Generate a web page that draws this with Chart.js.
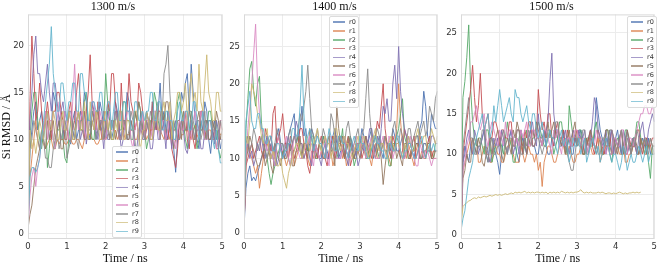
<!DOCTYPE html>
<html>
<head>
<meta charset="utf-8">
<script src="https://cdn.jsdelivr.net/npm/chart.js@4.4.0/dist/chart.umd.min.js"></script>
<style>
  body { margin: 0; background: #fff; width: 664px; height: 266px; position: relative; overflow: hidden; }
  .panel { position: absolute; top: 0; height: 266px; }
  .leyenda { position: absolute; background: rgba(255,255,255,0.85); border: 1px solid #dcdcdc; border-radius: 2px;
             font-family: "DejaVu Sans", sans-serif; font-size: 6.5px; color: #333; padding: 1px 2px 1px 3px; }
  .leyenda div { height: 8.8px; line-height: 8.8px; white-space: nowrap; }
  .leyenda span.linea { display: inline-block; width: 12px; height: 1.5px; vertical-align: middle; margin-right: 4px; }
</style>
</head>
<body>
<div class="panel" id="caja1" style="left:0px;width:228px"><canvas id="grafica_1300"></canvas></div>
<div class="panel" id="caja2" style="left:228px;width:215px"><canvas id="grafica_1400"></canvas></div>
<div class="panel" id="caja3" style="left:445px;width:215px"><canvas id="grafica_1500"></canvas></div>
<script>
/*-----Datos-----*/

const tiempo = [0, 0.05, 0.1, 0.15, 0.2, 0.25, 0.3, 0.35, 0.4, 0.45,
  0.5, 0.55, 0.6, 0.65, 0.7, 0.75, 0.8, 0.85, 0.9, 0.95,
  1.0, 1.05, 1.1, 1.15, 1.2, 1.25, 1.3, 1.35, 1.4, 1.45,
  1.5, 1.55, 1.6, 1.65, 1.7, 1.75, 1.8, 1.85, 1.9, 1.95,
  2.0, 2.05, 2.1, 2.15, 2.2, 2.25, 2.3, 2.35, 2.4, 2.45,
  2.5, 2.55, 2.6, 2.65, 2.7, 2.75, 2.8, 2.85, 2.9, 2.95,
  3.0, 3.05, 3.1, 3.15, 3.2, 3.25, 3.3, 3.35, 3.4, 3.45,
  3.5, 3.55, 3.6, 3.65, 3.7, 3.75, 3.8, 3.85, 3.9, 3.95,
  4.0, 4.05, 4.1, 4.15, 4.2, 4.25, 4.3, 4.35, 4.4, 4.45,
  4.5, 4.55, 4.6, 4.65, 4.7, 4.75, 4.8, 4.85, 4.9, 4.95, 5.0];

const nombres = ['r0', 'r1', 'r2', 'r3', 'r4', 'r5', 'r6', 'r7', 'r8', 'r9'];
const ticks_x = [0, 1, 2, 3, 4, 5];
const ticks_y_1300 = [0, 5, 10, 15, 20];
const ticks_y_1400 = [0, 5, 10, 15, 20, 25];
const ticks_y_1500 = [0, 5, 10, 15, 20, 25];

// 1300 m/s
const p1300_r0 = [0.5, 9, 11, 13, 14, 11, 12, 13, 10, 12,
  13, 10, 11, 15, 14, 11, 12, 10, 10, 13,
  12, 10, 9.5, 12, 13, 10, 11, 13, 12, 15,
  14, 11, 10, 13, 12, 10, 11, 14, 13, 11,
  10, 13, 12, 10, 11, 14, 13, 11, 10, 12,
  12, 15, 14, 11, 11, 13, 12, 10, 13, 11,
  10, 13, 12, 10, 14, 12, 11, 13, 16, 12,
  13, 11, 10, 12, 11, 9, 6.5, 10, 12, 15,
  14, 16, 17, 13, 18, 15, 12, 10, 9, 12,
  11, 14, 13, 10, 8.5, 11, 12, 10, 11, 9, 10];
const p1300_r1 = [0.5, 6, 8, 10, 12, 10, 9, 10, 9.5, 9,
  9.5, 10, 10, 9, 9, 10, 9.5, 10, 10, 9.5,
  9.5, 10, 10, 9.5, 9.5, 10, 10, 9.5, 9, 10,
  10, 10.5, 10.5, 10, 10, 9.5, 9.5, 10, 10, 10.5,
  10, 10.5, 10.5, 10, 10, 11, 10, 10.5, 10, 11,
  10, 10.5, 10.5, 11, 11, 10, 10, 11, 11, 10.5,
  11, 10, 10.5, 11, 11, 12, 12, 11, 11, 10.5,
  10, 11, 11, 10, 10.5, 11, 11, 10, 10, 10.5,
  10.5, 11, 11, 10.5, 10, 11, 11.5, 10.5, 10, 11,
  11, 10, 10.5, 11, 11, 10, 10, 10.5, 11, 10.5, 10.5];
const p1300_r2 = [0.5, 10, 13, 15, 15, 12, 10, 9, 11, 13,
  7, 9, 12, 10, 9, 11, 11, 13, 10, 8,
  7.5, 10, 12, 11, 10, 12, 13, 11, 11, 14,
  15, 12, 12, 10, 10, 13, 13, 11, 11, 12,
  17, 14, 12, 10, 10, 12, 13, 11, 11, 14,
  14, 12, 12, 10, 10, 13, 12, 14, 13, 11,
  11, 9, 10, 12, 12, 15, 14, 12, 11, 13,
  12, 10, 13, 11, 10, 12, 11, 14, 15, 13,
  12, 10, 9, 11, 13, 12, 11, 9, 10, 13,
  12, 10, 11, 13, 13, 11, 10, 12, 9, 8, 9];
const p1300_r3 = [0.5, 14, 21, 17, 12, 13, 16, 13, 11, 12,
  14, 12, 10, 13, 13, 15, 15, 13, 12, 10,
  10, 13, 14, 11, 12, 15, 17, 14, 11, 10,
  13, 15, 19, 14, 12, 11, 14, 12, 10, 13,
  11, 14, 13, 17, 17, 14, 12, 10, 16, 12,
  11, 13, 17, 14, 13, 11, 12, 16, 15, 13,
  10, 11, 12, 10, 14, 12, 11, 13, 13, 11,
  12, 10, 10, 12, 9, 8, 7, 9, 12, 11,
  11, 13, 10, 9, 12, 10, 9, 11, 11, 13,
  13, 11, 10, 12, 12, 10, 11, 9, 9, 12, 11];
const p1300_r4 = [0.5, 12, 15, 19, 21, 17, 17, 15, 14, 16,
  18, 15, 13, 16, 16, 14, 12, 13, 14, 12,
  11, 13, 13, 11, 10, 12, 12, 10, 11, 13,
  9.5, 11, 12, 14, 13, 11, 10, 12, 11, 9,
  12, 10, 10, 12, 11, 13, 13, 11, 9, 10,
  12, 10, 10, 12, 11, 9, 9, 11, 12, 10,
  10, 12, 11, 9, 9, 11, 12, 10, 10, 13,
  11, 9, 13, 11, 9, 11, 12, 10, 10, 12,
  11, 9, 8.5, 10, 12, 11, 10, 12, 11, 9,
  9, 11, 12, 10, 10, 11, 9.5, 12, 11, 10, 10];
const p1300_r5 = [0.5, 2, 3, 5, 7, 8, 9, 11, 10, 9,
  12, 10, 11, 12, 10, 11, 12, 9, 9, 11,
  11, 13, 12, 10, 10, 12, 13, 11, 11, 13,
  12, 10, 10, 12, 11, 13, 13, 11, 12, 10,
  11, 12, 10, 12, 12, 10, 11, 13, 13, 11,
  12, 10, 10, 12, 11, 13, 12, 14, 13, 11,
  11, 13, 12, 10, 10, 12, 13, 11, 11, 13,
  12, 14, 14, 12, 11, 9, 10, 12, 12, 10,
  13, 11, 11, 13, 12, 10, 10, 12, 13, 11,
  11, 12, 12, 10, 10, 12, 11, 13, 12, 10, 11];
const p1300_r6 = [0.5, 4, 6, 7, 5, 7, 8, 10, 11, 13,
  10, 12, 12, 10, 9, 12, 14, 12, 11, 13,
  12, 10, 10, 14, 18, 13, 11, 12, 13, 11,
  10, 12, 12, 14, 14, 11, 11, 13, 12, 10,
  10, 12, 13, 11, 11, 13, 12, 10, 10, 12,
  11, 13, 13, 10, 9, 11, 12, 10, 11, 13,
  10, 12, 12, 10, 11, 13, 13, 11, 10, 12,
  12, 10, 11, 13, 12, 10, 9, 11, 12, 11,
  11, 13, 12, 10, 10, 12, 13, 11, 11, 13,
  12, 10, 10, 12, 12, 11, 11, 9, 10, 12, 12];
const p1300_r7 = [0.5, 9, 10, 12, 11, 10, 9, 11, 10, 8,
  8, 7, 7, 9, 10, 11, 9, 10, 11, 12,
  8, 9, 10, 12, 11, 10, 9, 12, 12, 10,
  10, 11, 11, 13, 12, 10, 11, 12, 12, 10,
  12, 11, 10, 12, 11, 13, 12, 10, 10, 12,
  12, 10, 11, 13, 12, 10, 8, 9, 12, 11,
  10, 12, 11, 13, 12, 11, 13, 14, 10, 12,
  17, 18, 20, 15, 12, 11, 11, 10, 10, 12,
  12, 11, 11, 13, 13, 11, 10, 12, 12, 10,
  11, 13, 10, 12, 12, 11, 11, 10, 10, 12, 11];
const p1300_r8 = [0.5, 11, 9, 10, 8.5, 10, 12, 11, 10, 12,
  13, 11, 11, 13, 12, 10, 10, 12, 13, 11,
  11, 13, 12, 10, 10, 12, 13, 11, 11, 14,
  12, 10, 14, 12, 11, 13, 12, 10, 10, 12,
  13, 11, 12, 10, 10, 12, 11, 13, 13, 10,
  10, 12, 12, 11, 11, 13, 13, 10, 9, 11,
  11, 13, 12, 10, 10, 12, 13, 11, 11, 13,
  14, 12, 12, 14, 10, 12, 13, 15, 15, 13,
  14, 16, 12, 15, 17, 14, 15, 13, 18, 14,
  13, 16, 19, 15, 14, 12, 12, 15, 15, 13, 13];
const p1300_r9 = [0.5, 6, 7, 7, 6.5, 7, 8, 10, 12, 14,
  16, 18, 22, 17, 15, 13, 13, 16, 16, 14,
  12, 14, 14, 16, 16, 13, 13, 17, 17, 15,
  15, 12, 12, 14, 14, 13, 13, 15, 15, 12,
  12, 14, 14, 11, 13, 15, 15, 12, 12, 14,
  14, 13, 13, 11, 11, 14, 14, 12, 12, 13,
  12, 13, 13, 15, 15, 12, 12, 14, 14, 11,
  11, 13, 13, 12, 12, 10, 10, 13, 14, 12,
  12, 13, 13, 11, 11, 14, 14, 12, 10, 11,
  13, 11, 11, 12, 12, 10, 9, 11, 9, 7.5, 7.5];

// 1400 m/s
const p1400_r0 = [0.5, 6, 8, 9, 7, 7.5, 7, 8, 9, 10,
  11, 12, 13, 11, 12, 10, 9, 13, 14, 12,
  12, 10, 11, 13, 14, 15, 16, 12, 13, 14,
  17, 13, 14, 11, 12, 14, 13, 12, 11, 10,
  10, 13, 12, 11, 10, 12, 13, 14, 12, 10,
  11, 12, 13, 11, 10, 13, 12, 10, 11, 12,
  12, 14, 13, 11, 12, 13, 14, 10, 11, 12,
  13, 11, 10, 13, 12, 12, 11, 14, 13, 11,
  11, 12, 13, 10, 11, 13, 12, 11, 10, 12,
  12, 14, 15, 19, 17, 13, 12, 16, 15, 14, 14];
const p1400_r1 = [0.5, 9, 12, 11, 10, 9, 8, 9, 6, 8,
  10, 12, 12, 11, 10, 11, 10, 12, 13, 11,
  11, 10, 9, 10, 12, 11, 9, 10, 11, 12,
  12, 10, 11, 10, 9, 11, 10, 12, 11, 10,
  11, 10, 10, 12, 12, 11, 9, 10, 11, 12,
  12, 10, 11, 9, 10, 12, 11, 10, 10, 11,
  11, 12, 12, 10, 11, 10, 9, 11, 12, 10,
  10, 11, 12, 13, 11, 10, 9, 11, 12, 14,
  20, 15, 12, 11, 10, 12, 11, 10, 9, 11,
  12, 10, 11, 10, 10, 12, 12, 11, 10, 10, 10];
const p1400_r2 = [0.5, 14, 18, 22, 23, 19, 17, 20, 21, 15,
  12, 11, 10, 8, 6.5, 8, 9, 10, 11, 12,
  10, 12, 12, 10, 9, 11, 11, 12, 13, 11,
  10, 12, 12, 11, 11, 13, 13, 10, 10, 12,
  11, 13, 12, 10, 10, 11, 13, 12, 10, 11,
  12, 14, 10, 11, 12, 13, 11, 9, 10, 12,
  11, 12, 12, 10, 10, 12, 11, 13, 13, 11,
  10, 12, 12, 11, 11, 9, 9, 12, 12, 13,
  14, 16, 18, 13, 12, 10, 10, 12, 11, 13,
  13, 10, 10, 12, 12, 11, 11, 10, 10, 12, 12];
const p1400_r3 = [0.5, 9, 10, 11, 12, 10, 11, 12, 13, 11,
  10, 14, 13, 12, 11, 16, 17, 12, 13, 14,
  16, 13, 11, 10, 13, 12, 10, 11, 12, 14,
  14, 12, 11, 9, 8, 10, 12, 11, 10, 12,
  13, 11, 10, 9, 11, 12, 13, 10, 11, 13,
  12, 11, 10, 12, 13, 9, 10, 11, 12, 12,
  12, 10, 11, 13, 12, 11, 10, 12, 13, 15,
  14, 17, 20, 14, 12, 11, 10, 13, 12, 12,
  12, 10, 11, 14, 13, 11, 10, 12, 13, 10,
  11, 13, 12, 11, 10, 12, 13, 10, 11, 11, 11];
const p1400_r4 = [0.5, 11, 12, 10, 11, 9, 10, 12, 11, 13,
  11, 10, 13, 12, 10, 11, 12, 9, 10, 12,
  10, 11, 12, 13, 11, 12, 13, 15, 14, 12,
  12, 10, 11, 12, 10, 9, 12, 11, 11, 10,
  9, 11, 12, 10, 10, 12, 11, 13, 13, 10,
  10, 12, 11, 10, 9, 12, 12, 10, 11, 9,
  10, 12, 11, 13, 12, 14, 14, 12, 11, 13,
  11, 14, 17, 16, 18, 15, 15, 20, 22.5, 18,
  25, 19, 16, 14, 13, 12, 12, 11, 11, 13,
  13, 10, 10, 12, 12, 11, 11, 13, 13, 12, 12];
const p1400_r5 = [0.5, 10, 11, 13, 12, 11, 10, 9, 9, 10,
  11, 9, 10, 11, 9, 8, 12, 11, 10, 9,
  11, 10, 10, 12, 12, 9, 9, 11, 11, 13,
  10, 12, 12, 10, 14, 13, 11, 10, 11, 12,
  12, 10, 10, 12, 13, 11, 11, 9, 17, 14,
  12, 13, 10, 11, 13, 12, 11, 10, 12, 11,
  10, 11, 12, 13, 11, 10, 13, 12, 10, 11,
  12, 10, 6.5, 9, 11, 12, 10, 11, 12, 10,
  11, 10, 9, 12, 12, 10, 10, 11, 11, 12,
  12, 10, 10, 11, 11, 12, 12, 10, 10, 11, 11];
const p1400_r6 = [0.5, 10, 14, 17, 20, 24, 28, 20, 16, 14,
  13, 12, 11, 12, 13, 10, 9, 12, 13, 11,
  11, 12, 13, 10, 9, 11, 13, 12, 11, 10,
  10, 11, 12, 12, 13, 10, 9, 12, 11, 10,
  11, 12, 13, 10, 9, 13, 12, 11, 10, 10,
  10, 12, 13, 11, 10, 10, 11, 12, 13, 11,
  11, 13, 12, 10, 11, 12, 13, 11, 10, 10,
  10, 12, 13, 11, 10, 13, 12, 10, 11, 12,
  12, 11, 10, 10, 11, 12, 13, 11, 10, 9,
  9, 12, 11, 10, 11, 11, 10, 9, 10, 10, 10];
const p1400_r7 = [0.5, 12, 13, 11, 12, 14, 13, 11, 12, 13,
  12, 11, 10, 12, 13, 11, 12, 14, 13, 12,
  12, 11, 11, 13, 14, 12, 13, 12, 14, 16,
  15, 17, 19, 22.5, 18, 14, 13, 12, 14, 12,
  12, 14, 13, 12, 12, 16, 15, 13, 11, 12,
  13, 12, 12, 14, 15, 13, 11, 12, 13, 14,
  12, 13, 14, 18, 22, 16, 13, 12, 13, 14,
  13, 11, 12, 13, 12, 11, 12, 14, 15, 13,
  12, 14, 13, 11, 12, 14, 14, 12, 13, 14,
  15, 13, 14, 15, 13, 14, 17, 16, 15, 18, 19];
const p1400_r8 = [0.5, 13, 12, 15, 20, 19, 18, 16, 15, 13,
  12, 13, 14, 11, 10, 11, 10, 9, 9, 10,
  8, 7, 6, 8, 9, 10, 11, 12, 12, 11,
  10, 11, 13, 12, 11, 12, 12, 13, 14, 12,
  11, 12, 13, 12, 12, 10, 11, 14, 14, 12,
  11, 12, 13, 12, 12, 11, 10, 11, 12, 13,
  11, 12, 13, 12, 10, 11, 12, 13, 14, 12,
  11, 12, 12, 11, 10, 12, 13, 12, 11, 12,
  12, 11, 10, 12, 11, 13, 12, 11, 11, 13,
  14, 12, 12, 13, 13, 11, 12, 14, 13, 12, 13];
const p1400_r9 = [0.5, 15, 17, 19, 15, 14, 14, 16, 16, 14,
  14, 12, 12, 13, 13, 11, 11, 12, 12, 11,
  10, 11, 11, 12, 12, 14, 14, 13, 13, 17,
  22.5, 16, 12, 13, 14, 13, 11, 12, 13, 12,
  12, 11, 10, 12, 14, 13, 12, 11, 11, 13,
  13, 12, 12, 11, 10, 11, 12, 13, 12, 11,
  13, 12, 12, 11, 10, 10, 11, 12, 13, 12,
  12, 11, 11, 10, 10, 12, 12, 11, 11, 13,
  13, 11, 10, 11, 11, 12, 12, 11, 10, 10,
  11, 12, 13, 11, 10, 11, 12, 11, 12, 11, 11];

// 1500 m/s
const p1500_r0 = [0.5, 9, 11, 10, 9, 11, 12, 11, 10, 11,
  11, 12, 13, 10, 9, 12, 12, 11, 10, 9,
  7.5, 10, 12, 11, 10, 12, 13, 12, 11, 10,
  9, 11, 12, 11, 10, 12, 13, 11, 11, 10,
  10, 12, 12, 13, 11, 10, 10, 12, 11, 13,
  12, 11, 11, 13, 10, 11, 12, 10, 10, 12,
  11, 12, 13, 12, 10, 11, 12, 13, 11, 12,
  17, 15, 13, 12, 11, 10, 12, 13, 10, 11,
  12, 13, 11, 10, 13, 12, 10, 11, 11, 12,
  12, 10, 10, 11, 12, 11, 10, 12, 10, 11, 11];
const p1500_r1 = [0.5, 8, 9, 10, 11, 12, 10, 11, 12, 9,
  9, 10, 11, 10, 10, 9, 9, 11, 11, 10,
  10, 9, 9, 10, 11, 11, 12, 10, 9, 9,
  9, 11, 10, 9, 10, 11, 10, 10, 9, 10,
  8, 9, 6, 9, 10, 11, 11, 10, 9, 9,
  10, 11, 12, 11, 10, 10, 11, 10, 9, 9,
  10, 10, 11, 10, 10, 11, 12, 11, 10, 10,
  11, 12, 9, 10, 10, 11, 11, 10, 10, 11,
  12, 11, 10, 10, 11, 9, 9, 10, 10, 11,
  11, 10, 10, 12, 11, 10, 10, 11, 11, 10, 10];
const p1500_r2 = [0.5, 17, 19, 22, 26, 18, 14, 12, 11, 12,
  12, 11, 10, 13, 13, 11, 9, 10, 11, 12,
  12, 11, 10, 12, 14, 12, 11, 9, 9, 11,
  12, 13, 10, 11, 13, 12, 11, 12, 12, 13,
  14, 13, 12, 11, 11, 12, 13, 12, 10, 11,
  12, 14, 14, 12, 11, 10, 16, 14, 12, 12,
  11, 13, 13, 10, 10, 12, 12, 11, 11, 13,
  14, 12, 12, 10, 10, 13, 13, 10, 9, 11,
  11, 12, 12, 10, 10, 13, 13, 11, 11, 12,
  12, 14, 14, 12, 11, 10, 12, 9, 7, 11, 11];
const p1500_r3 = [0.5, 10, 12, 14, 16, 18, 21, 17, 14, 16,
  20, 15, 13, 14, 15, 12, 12, 14, 14, 13,
  11, 13, 13, 12, 12, 14, 14, 11, 11, 13,
  13, 12, 10, 13, 12, 14, 14, 11, 11, 12,
  18, 15, 13, 14, 12, 15, 15, 12, 11, 13,
  14, 12, 12, 13, 11, 13, 12, 11, 11, 12,
  13, 12, 11, 10, 12, 11, 12, 13, 11, 10,
  11, 13, 12, 11, 10, 12, 11, 11, 13, 12,
  10, 11, 12, 13, 11, 10, 10, 12, 11, 11,
  11, 13, 13, 11, 10, 12, 12, 11, 11, 12, 12];
const p1500_r4 = [0.5, 9, 10, 12, 13, 11, 10, 13, 12, 10,
  11, 12, 13, 11, 10, 9, 10, 12, 11, 12,
  10, 13, 12, 11, 10, 12, 13, 10, 11, 12,
  10, 13, 12, 11, 10, 12, 13, 14, 12, 11,
  15, 12, 11, 12, 13, 14, 19, 22.5, 15, 13,
  13, 12, 11, 12, 13, 11, 10, 12, 13, 12,
  11, 13, 12, 12, 13, 11, 10, 12, 14, 17,
  16, 13, 12, 11, 12, 13, 11, 12, 13, 10,
  12, 11, 12, 10, 11, 12, 13, 11, 10, 12,
  11, 10, 12, 13, 14, 12, 11, 13, 14, 15, 14];
const p1500_r5 = [0.5, 7, 8, 10, 9, 9, 12, 11, 10, 12,
  11, 9, 8.5, 10, 11, 12, 10, 11, 12, 13,
  12, 10, 9, 11, 12, 11, 10, 13, 12, 14,
  13, 12, 11, 12, 10, 12, 11, 13, 12, 14,
  13, 12, 11, 13, 12, 14, 12, 13, 14, 12,
  13, 12, 11, 12, 10, 12, 13, 11, 13, 14,
  11, 12, 12, 10, 10, 12, 11, 13, 12, 11,
  10, 11, 12, 10, 11, 13, 13, 11, 10, 12,
  11, 10, 12, 13, 10, 11, 13, 12, 10, 11,
  12, 11, 10, 12, 11, 12, 10, 11, 12, 11, 11];
const p1500_r6 = [0.5, 8, 9, 11, 12, 14, 14, 15, 16, 14,
  13, 14, 15, 12, 11, 13, 14, 13, 12, 11,
  13, 12, 11, 14, 12, 13, 13, 12, 11, 12,
  11, 13, 12, 13, 14, 11, 11, 13, 13, 12,
  12, 12, 11, 13, 13, 12, 11, 10, 13, 12,
  13, 11, 10, 12, 11, 12, 12, 11, 12, 13,
  13, 12, 11, 12, 12, 10, 11, 12, 12, 11,
  13, 12, 12, 11, 11, 10, 11, 10, 10, 12,
  12, 11, 11, 13, 13, 10, 10, 12, 12, 11,
  12, 13, 14, 15, 15, 16, 16, 15, 15, 16, 15];
const p1500_r7 = [0.5, 11, 13, 15, 17, 12, 12, 10, 10, 11,
  11, 13, 13, 10, 9, 11, 12, 10, 10, 11,
  11, 12, 13, 11, 10, 12, 12, 11, 11, 13,
  13, 10, 10, 12, 11, 13, 12, 11, 11, 12,
  12, 11, 10, 11, 11, 13, 13, 12, 12, 14,
  14, 12, 12, 11, 11, 10, 9, 8, 8, 10,
  12, 11, 11, 13, 13, 10, 10, 12, 12, 11,
  11, 10, 10, 12, 12, 11, 11, 13, 13, 12,
  10, 11, 12, 13, 11, 10, 12, 11, 10, 12,
  11, 13, 12, 10, 11, 12, 11, 10, 12, 11, 10];
const p1500_r8 = [1, 3.5, 3.8, 4, 4.2, 4.3, 4.5, 4.6, 4.5, 4.7,
  4.6, 4.7, 4.8, 4.7, 4.8, 4.9, 4.8, 4.9, 5, 4.9,
  5, 4.9, 5, 5.1, 5, 5.1, 5.2, 5.1, 5.3, 5.2,
  5.3, 5.2, 5.3, 5.4, 5.2, 5.3, 5.2, 5.3, 5.2, 5.3,
  5.3, 5.2, 5.3, 5.2, 5.3, 5.1, 5.3, 5.2, 5.3, 5.2,
  5.3, 5.2, 5.4, 5.3, 5.2, 5.3, 5.2, 5.3, 5.2, 5.3,
  5.3, 5.4, 5.6, 5.3, 5.2, 5.3, 5.2, 5.3, 5.2, 5.2,
  5.2, 5.3, 5.2, 5.3, 5.2, 5.1, 5.2, 5.2, 5.1, 5.2,
  5.1, 5.2, 5.3, 5.2, 5.1, 5.2, 5.1, 5.2, 5.2, 5.3,
  5.2, 5.3, 5.2, 5.3];
const p1500_r9 = [0.5, 2, 3, 5, 7, 8, 9, 11, 12, 13,
  14, 15, 13, 14, 15, 12, 13, 16, 14, 16,
  18, 16, 14, 15, 16, 17, 15, 14, 18, 17,
  17, 15, 14, 15, 16, 14, 13, 15, 15, 13,
  12, 13, 14, 12, 11, 12, 13, 12, 12, 11,
  10, 12, 13, 11, 12, 11, 9, 10, 12, 11,
  11, 12, 10, 11, 12, 9, 10, 11, 12, 11,
  10, 11, 9, 10, 11, 12, 11, 10, 9, 10,
  10, 9, 8, 9, 11, 10, 8, 9, 10, 9,
  9, 10, 11, 10, 9, 10, 11, 9, 10, 10, 10];

/*-----Estilo-----*/

const colores = ['76,114,176', '221,132,82', '85,168,104', '196,78,82', '129,114,179',
                 '147,120,96', '218,139,195', '140,140,140', '204,185,116', '100,181,205'];

// marco gris alrededor del area de dibujo
const marco = {
  id: 'marco',
  afterDraw(chart) {
    const a = chart.chartArea;
    const ctx = chart.ctx;
    ctx.save();
    ctx.strokeStyle = '#d9d9d9';
    ctx.lineWidth = 1;
    ctx.strokeRect(a.left + 0.5, a.top + 0.5, a.right - a.left - 1, a.bottom - a.top - 1);
    ctx.restore();
  }
};

function crearGrafica(id, titulo, series, yMin, yMax, ticksY, anchoY, conTituloY) {
  const datasets = series.map((valores, i) => ({
    label: nombres[i],
    data: valores.map((v, j) => ({ x: tiempo[j], y: v })),
    borderColor: 'rgba(' + colores[i] + ',0.9)',
    borderWidth: 1,
    pointRadius: 0,
    tension: 0,
    order: 9 - i
  }));

  return new Chart(document.getElementById(id), {
    type: 'line',
    data: { datasets: datasets },
    plugins: [marco],
    options: {
      responsive: true,
      maintainAspectRatio: false,
      animation: false,
      layout: { padding: { left: 0, right: 2, top: 0, bottom: 0 } },
      scales: {
        x: {
          type: 'linear',
          min: 0,
          max: 5,
          afterBuildTicks: (s) => { s.ticks = ticks_x.map(v => ({ value: v })); },
          afterFit: (s) => { s.height = 27; },
          grid: { color: '#ececec', drawTicks: false },
          border: { display: false },
          ticks: { padding: 3, color: '#333', font: { family: 'DejaVu Sans', size: 8.5 } },
          title: {
            display: true,
            text: 'Time / ns',
            color: '#111',
            padding: { top: 0, bottom: 0 },
            font: { family: 'Liberation Serif', size: 12 }
          }
        },
        y: {
          min: yMin,
          max: yMax,
          afterBuildTicks: (s) => { s.ticks = ticksY.map(v => ({ value: v })); },
          afterFit: (s) => { s.width = anchoY; },
          grid: { color: '#ececec', drawTicks: false },
          border: { display: false },
          ticks: { padding: 4, color: '#333', font: { family: 'DejaVu Sans', size: 8.5 } },
          title: {
            display: conTituloY,
            text: 'Si RMSD / Å',
            color: '#111',
            padding: { top: 0, bottom: 2 },
            font: { family: 'Liberation Serif', size: 12 }
          }
        }
      },
      plugins: {
        legend: { display: false },
        tooltip: { enabled: false },
        title: {
          display: true,
          text: titulo,
          color: '#111',
          padding: { top: 0, bottom: 0 },
          font: { family: 'Liberation Serif', size: 12, weight: 'normal' }
        }
      }
    }
  });
}

// leyenda en HTML colocada dentro de cada panel
function crearLeyenda(chart, left, top) {
  const caja = document.createElement('div');
  caja.className = 'leyenda';
  caja.style.left = left + 'px';
  caja.style.top = top + 'px';
  chart.data.datasets.forEach((ds) => {
    const fila = document.createElement('div');
    const linea = document.createElement('span');
    linea.className = 'linea';
    linea.style.background = ds.borderColor.replace('0.9)', '0.7)');
    fila.appendChild(linea);
    fila.appendChild(document.createTextNode(ds.label));
    caja.appendChild(fila);
  });
  document.body.appendChild(caja);
}

/*-----Gráficas-----*/

const g1300 = crearGrafica('grafica_1300', '1300 m/s',
  [p1300_r0, p1300_r1, p1300_r2, p1300_r3, p1300_r4, p1300_r5, p1300_r6, p1300_r7, p1300_r8, p1300_r9],
  -0.6, 23.3, ticks_y_1300, 28, true);
const g1400 = crearGrafica('grafica_1400', '1400 m/s',
  [p1400_r0, p1400_r1, p1400_r2, p1400_r3, p1400_r4, p1400_r5, p1400_r6, p1400_r7, p1400_r8, p1400_r9],
  -0.8, 29.3, ticks_y_1400, 16, false);
const g1500 = crearGrafica('grafica_1500', '1500 m/s',
  [p1500_r0, p1500_r1, p1500_r2, p1500_r3, p1500_r4, p1500_r5, p1500_r6, p1500_r7, p1500_r8, p1500_r9],
  -0.5, 27.3, ticks_y_1500, 16, false);

crearLeyenda(g1300, 112, 146);
crearLeyenda(g1400, 329, 16);
crearLeyenda(g1500, 627, 16);
</script>
</body>
</html>
